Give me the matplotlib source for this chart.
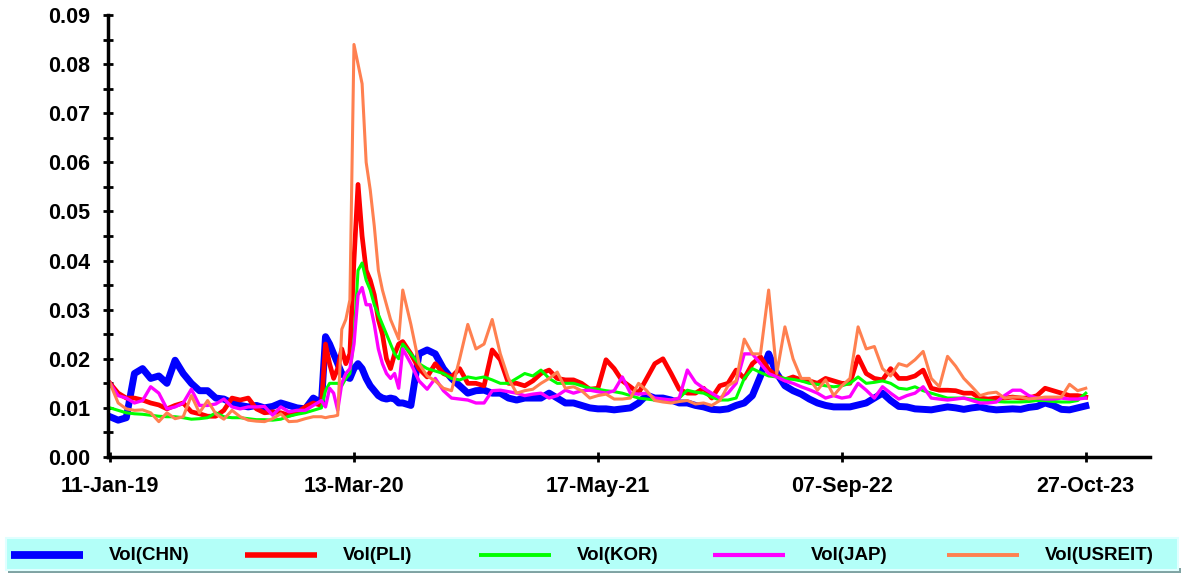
import numpy as np
import matplotlib
matplotlib.use('Agg')
import matplotlib.pyplot as plt
from matplotlib.patches import Rectangle

plt.rcParams['font.family'] = ['Liberation Sans', 'DejaVu Sans']
plt.rcParams['font.weight'] = 'bold'

# observation number (trading-day index), denser sampling around the Mar-2020 spike
obs = np.r_[np.arange(0, 260, 10), np.arange(260, 360, 5), np.arange(360, 1201, 10)]

tick_obs = [0, 300, 600, 900, 1200]
tick_dates = ['11-Jan-19', '13-Mar-20', '17-May-21', '07-Sep-22', '27-Oct-23']

vol_chn = [
    0.0082, 0.0075, 0.0080, 0.0170, 0.0180, 0.0160, 0.0165, 0.0150, 0.0197, 0.0170,
    0.0150, 0.0135, 0.0135, 0.0120, 0.0118, 0.0110, 0.0105, 0.0102, 0.0105, 0.0100,
    0.0103, 0.0110, 0.0105, 0.0100, 0.0098, 0.0120,
    0.0110, 0.0245, 0.0230, 0.0210, 0.0190, 0.0170, 0.0163, 0.0160, 0.0180, 0.0190,
    0.0180, 0.0160, 0.0145, 0.0135, 0.0125, 0.0120, 0.0118, 0.0120, 0.0118, 0.0110,
    0.0110, 0.0105, 0.0210, 0.0218, 0.0210, 0.0180, 0.0160, 0.0145, 0.0130, 0.0135,
    0.0136, 0.0130, 0.0130, 0.0120, 0.0116, 0.0120, 0.0120, 0.0120, 0.0130, 0.0120,
    0.0110, 0.0110, 0.0105, 0.0100, 0.0098, 0.0098, 0.0096, 0.0098, 0.0100, 0.0110,
    0.0126, 0.0120, 0.0120, 0.0116, 0.0110, 0.0110, 0.0105, 0.0102, 0.0097, 0.0096,
    0.0098, 0.0105, 0.0110, 0.0125, 0.0165, 0.0210, 0.0170, 0.0145, 0.0135, 0.0128,
    0.0118, 0.0110, 0.0105, 0.0102, 0.0102, 0.0102, 0.0106, 0.0110, 0.0120, 0.0130,
    0.0115, 0.0103, 0.0102, 0.0098, 0.0097, 0.0096, 0.0099, 0.0102, 0.0100, 0.0097,
    0.0100, 0.0102, 0.0098, 0.0096, 0.0097, 0.0098, 0.0097, 0.0101, 0.0103, 0.0110,
    0.0105, 0.0097, 0.0096, 0.0100, 0.0104]

vol_pli = [
    0.0150, 0.0130, 0.0120, 0.0120, 0.0116, 0.0110, 0.0106, 0.0098, 0.0105, 0.0110,
    0.0092, 0.0088, 0.0083, 0.0083, 0.0095, 0.0120, 0.0116, 0.0120, 0.0098, 0.0090,
    0.0092, 0.0090, 0.0085, 0.0090, 0.0102, 0.0110,
    0.0105, 0.0230, 0.0190, 0.0160, 0.0180, 0.0220, 0.0190, 0.0210, 0.0400, 0.0555,
    0.0450, 0.0380, 0.0360, 0.0330, 0.0280, 0.0250, 0.0200, 0.0180, 0.0210, 0.0230,
    0.0235, 0.0210, 0.0180, 0.0163, 0.0190, 0.0170, 0.0163, 0.0180, 0.0150, 0.0150,
    0.0145, 0.0218, 0.0198, 0.0150, 0.0150, 0.0145, 0.0155, 0.0170, 0.0177, 0.0160,
    0.0157, 0.0157, 0.0150, 0.0138, 0.0140, 0.0198, 0.0180, 0.0155, 0.0143, 0.0130,
    0.0160, 0.0190, 0.0200, 0.0170, 0.0138, 0.0130, 0.0130, 0.0140, 0.0120, 0.0145,
    0.0150, 0.0177, 0.0160, 0.0190, 0.0204, 0.0178, 0.0165, 0.0157, 0.0163, 0.0157,
    0.0155, 0.0150, 0.0160, 0.0155, 0.0150, 0.0150, 0.0204, 0.0170, 0.0160, 0.0157,
    0.0180, 0.0160, 0.0160, 0.0165, 0.0177, 0.0140, 0.0136, 0.0136, 0.0135, 0.0130,
    0.0130, 0.0120, 0.0118, 0.0120, 0.0120, 0.0122, 0.0120, 0.0120, 0.0125, 0.0140,
    0.0135, 0.0130, 0.0125, 0.0125, 0.0122]

vol_kor = [
    0.0100, 0.0095, 0.0090, 0.0088, 0.0087, 0.0085, 0.0083, 0.0082, 0.0082, 0.0080,
    0.0077, 0.0078, 0.0080, 0.0090, 0.0082, 0.0080, 0.0080, 0.0078, 0.0076, 0.0076,
    0.0075, 0.0077, 0.0083, 0.0087, 0.0090, 0.0095,
    0.0100, 0.0135, 0.0150, 0.0150, 0.0150, 0.0145, 0.0160, 0.0170, 0.0240, 0.0380,
    0.0395, 0.0360, 0.0340, 0.0310, 0.0290, 0.0270, 0.0250, 0.0230, 0.0210, 0.0200,
    0.0230, 0.0210, 0.0190, 0.0180, 0.0175, 0.0170, 0.0160, 0.0157, 0.0163, 0.0160,
    0.0163, 0.0157, 0.0150, 0.0150, 0.0160, 0.0170, 0.0165, 0.0177, 0.0160, 0.0150,
    0.0150, 0.0150, 0.0145, 0.0140, 0.0138, 0.0135, 0.0133, 0.0130, 0.0125, 0.0120,
    0.0118, 0.0116, 0.0116, 0.0116, 0.0120, 0.0136, 0.0132, 0.0130, 0.0122, 0.0116,
    0.0116, 0.0120, 0.0160, 0.0180, 0.0172, 0.0165, 0.0163, 0.0160, 0.0158, 0.0155,
    0.0150, 0.0148, 0.0145, 0.0143, 0.0145, 0.0150, 0.0163, 0.0150, 0.0152, 0.0155,
    0.0150, 0.0140, 0.0138, 0.0143, 0.0135, 0.0130, 0.0125, 0.0120, 0.0120, 0.0120,
    0.0118, 0.0116, 0.0115, 0.0113, 0.0112, 0.0112, 0.0112, 0.0113, 0.0115, 0.0115,
    0.0113, 0.0112, 0.0112, 0.0115, 0.0130]

vol_jap = [
    0.0150, 0.0125, 0.0120, 0.0110, 0.0115, 0.0143, 0.0130, 0.0098, 0.0102, 0.0110,
    0.0138, 0.0105, 0.0105, 0.0108, 0.0118, 0.0102, 0.0098, 0.0102, 0.0102, 0.0103,
    0.0085, 0.0102, 0.0092, 0.0095, 0.0095, 0.0105,
    0.0115, 0.0102, 0.0140, 0.0130, 0.0095, 0.0150, 0.0170, 0.0180, 0.0230, 0.0330,
    0.0345, 0.0310, 0.0310, 0.0270, 0.0220, 0.0190, 0.0170, 0.0160, 0.0170, 0.0140,
    0.0220, 0.0190, 0.0155, 0.0138, 0.0160, 0.0135, 0.0120, 0.0118, 0.0116, 0.0110,
    0.0110, 0.0135, 0.0136, 0.0133, 0.0130, 0.0125, 0.0128, 0.0130, 0.0120, 0.0125,
    0.0136, 0.0130, 0.0135, 0.0136, 0.0133, 0.0130, 0.0135, 0.0163, 0.0130, 0.0128,
    0.0130, 0.0120, 0.0118, 0.0116, 0.0120, 0.0177, 0.0152, 0.0140, 0.0130, 0.0120,
    0.0130, 0.0150, 0.0210, 0.0210, 0.0190, 0.0170, 0.0163, 0.0155, 0.0150, 0.0143,
    0.0137, 0.0130, 0.0120, 0.0125, 0.0120, 0.0123, 0.0150, 0.0136, 0.0120, 0.0143,
    0.0130, 0.0118, 0.0125, 0.0130, 0.0143, 0.0120, 0.0118, 0.0116, 0.0118, 0.0120,
    0.0115, 0.0110, 0.0110, 0.0112, 0.0125, 0.0136, 0.0136, 0.0125, 0.0120, 0.0118,
    0.0118, 0.0120, 0.0118, 0.0118, 0.0120]

vol_usreit = [
    0.0150, 0.0110, 0.0098, 0.0095, 0.0096, 0.0090, 0.0072, 0.0090, 0.0078, 0.0082,
    0.0125, 0.0090, 0.0115, 0.0088, 0.0077, 0.0095, 0.0082, 0.0075, 0.0073, 0.0072,
    0.0078, 0.0088, 0.0072, 0.0073, 0.0078, 0.0082,
    0.0082, 0.0080, 0.0082, 0.0083, 0.0085, 0.0260, 0.0280, 0.0320, 0.0840, 0.0800,
    0.0760, 0.0600, 0.0544, 0.0470, 0.0380, 0.0340, 0.0310, 0.0280, 0.0260, 0.0240,
    0.0340, 0.0270, 0.0190, 0.0165, 0.0155, 0.0140, 0.0135, 0.0200, 0.0270, 0.0220,
    0.0230, 0.0280, 0.0210, 0.0160, 0.0130, 0.0135, 0.0138, 0.0150, 0.0160, 0.0173,
    0.0140, 0.0143, 0.0135, 0.0120, 0.0125, 0.0128, 0.0118, 0.0118, 0.0120, 0.0150,
    0.0135, 0.0115, 0.0112, 0.0110, 0.0113, 0.0115, 0.0108, 0.0110, 0.0105, 0.0115,
    0.0145, 0.0155, 0.0240, 0.0210, 0.0210, 0.0340, 0.0170, 0.0265, 0.0200, 0.0160,
    0.0160, 0.0136, 0.0157, 0.0125, 0.0145, 0.0160, 0.0265, 0.0220, 0.0225, 0.0180,
    0.0165, 0.0190, 0.0185, 0.0198, 0.0215, 0.0160, 0.0143, 0.0205, 0.0185, 0.0160,
    0.0143, 0.0125, 0.0130, 0.0132, 0.0120, 0.0122, 0.0122, 0.0118, 0.0120, 0.0122,
    0.0122, 0.0122, 0.0148, 0.0135, 0.0140]

labels = ['Vol(CHN)', 'Vol(PLI)', 'Vol(KOR)', 'Vol(JAP)', 'Vol(USREIT)']
series = [vol_chn, vol_pli, vol_kor, vol_jap, vol_usreit]
colors = ['#0000FF', '#FF0000', '#00FF00', '#FF00FF', '#FF8050']
widths = [5.0, 3.4, 2.2, 2.4, 2.2]

W, H = 1181, 574
fig = plt.figure(figsize=(W / 100, H / 100), dpi=100)

# legend strip at the bottom, laid out in figure pixels
lax = fig.add_axes([0, 0, 1, 1])
lax.set_xlim(0, W)
lax.set_ylim(H, 0)
lax.axis('off')
lax.add_patch(Rectangle((8, 568), 1173, 5, facecolor='#7FA3A3', edgecolor='none'))
lax.add_patch(Rectangle((6, 538), 1172, 32, facecolor='#B3FFF8', edgecolor='#E0FFFF', lw=1.5))
for k, (lab, c, w) in enumerate(zip(labels, colors, widths)):
    x0 = 11 + 234 * k
    lax.plot([x0, x0 + 72], [555, 555], color=c, lw=w + 0.6, solid_capstyle='butt')
    lax.text(x0 + 98, 555, lab, fontsize=13.5, fontweight='bold', va='center', ha='left')

ax = fig.add_axes([108 / W, 1 - 457 / H, (1150 - 108) / W, (457 - 15) / H])
ax.patch.set_alpha(0)
for vals, c, w in zip(series, colors, widths):
    ax.plot(obs, vals, color=c, lw=w, solid_joinstyle='round')

ax.set_xlim(-2.5, 1279)
ax.set_ylim(0, 0.09)
ax.spines['top'].set_visible(False)
ax.spines['right'].set_visible(False)
for s in ('left', 'bottom'):
    ax.spines[s].set_linewidth(2.5)

ax.set_yticks(np.arange(0, 0.0901, 0.01))
ax.set_yticks(np.arange(0.005, 0.09, 0.01), minor=True)
ax.set_yticklabels(['%.2f' % v for v in np.arange(0, 0.0901, 0.01)])
ax.set_xticks(tick_obs)
ax.set_xticklabels(tick_dates)
ax.tick_params(which='both', direction='inout', length=7.5, width=2, labelsize=15.5)
ax.tick_params(axis='y', pad=9)
ax.tick_params(axis='x', pad=10)

fig.savefig('out.png', dpi=100)
